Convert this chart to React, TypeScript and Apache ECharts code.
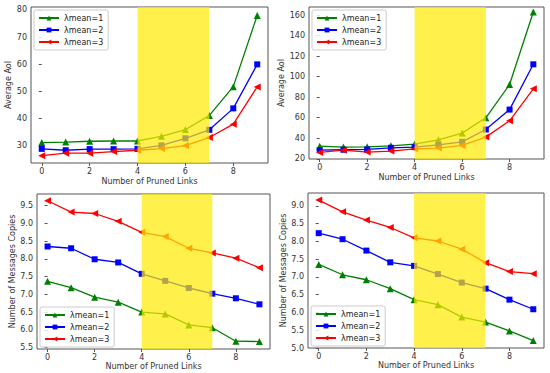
import React, { useEffect, useRef } from "react";
import * as echarts from "echarts";

const xs = [0, 1, 2, 3, 4, 5, 6, 7, 8, 9];
const seriesNames = ["λmean=1", "λmean=2", "λmean=3"];

// Panel A (top-left): Average AoI
const aoiA1 = [31.2, 31.4, 31.7, 31.8, 31.8, 33.5, 36.0, 41.2, 51.8, 78.0];
const aoiA2 = [28.9, 28.4, 28.8, 28.8, 28.9, 30.2, 32.8, 35.9, 43.8, 60.0];
const aoiA3 = [26.4, 27.3, 27.3, 27.9, 28.4, 29.0, 30.1, 33.1, 38.0, 51.7];
// Panel B (top-right): Average AoI
const aoiB1 = [32.3, 31.4, 31.7, 32.6, 34.3, 38.5, 45.0, 59.9, 92.3, 162.9];
const aoiB2 = [28.4, 28.8, 29.1, 30.7, 31.4, 33.6, 36.5, 48.5, 67.9, 112.0];
const aoiB3 = [26.2, 28.4, 26.5, 27.5, 29.7, 30.4, 33.0, 41.1, 57.0, 88.1];
// Panel C (bottom-left): Number of Messages Copies
const copC1 = [7.37, 7.19, 6.92, 6.78, 6.5, 6.45, 6.14, 6.06, 5.68, 5.67];
const copC2 = [8.35, 8.3, 7.99, 7.9, 7.58, 7.38, 7.18, 7.02, 6.89, 6.72];
const copC3 = [9.64, 9.32, 9.28, 9.06, 8.75, 8.63, 8.3, 8.17, 8.02, 7.75];
// Panel D (bottom-right): Number of Messages Copies
const copD1 = [7.35, 7.06, 6.92, 6.67, 6.36, 6.22, 5.87, 5.73, 5.48, 5.21];
const copD2 = [8.23, 8.06, 7.74, 7.41, 7.31, 7.08, 6.84, 6.67, 6.36, 6.09];
const copD3 = [9.16, 8.83, 8.6, 8.39, 8.1, 8.01, 7.78, 7.4, 7.15, 7.09];

const xTicks = [0, 2, 4, 6, 8];
const yTicksA = [30, 40, 50, 60, 70, 80];
const yTicksB = [20, 40, 60, 80, 100, 120, 140, 160];
const yTicksC = [5.5, 6.0, 6.5, 7.0, 7.5, 8.0, 8.5, 9.0, 9.5];
const yTicksD = [5.0, 5.5, 6.0, 6.5, 7.0, 7.5, 8.0, 8.5, 9.0];
const band = [4, 7];

const colors = ["#008000", "#0000ff", "#ff0000"];
const symbols = ["triangle", "rect", "triangle"];
const rotates = [0, 0, 90];

const font = "DejaVu Sans";

export default function App() {
  const ref = useRef<HTMLDivElement>(null);
  useEffect(() => {
    if (!ref.current) return;
    const chart = echarts.init(ref.current, undefined, { renderer: "svg" });

    const panels = [
      { data: [aoiA1, aoiA2, aoiA3], yTicks: yTicksA, ymin: 23.7, ymax: 81.1, name: "Average AoI",
        grid: { left: 31, top: 7, width: 237, height: 156 }, nameGapY: 18, nameGapX: 14, fmt: (v: number) => String(v) },
      { data: [aoiB1, aoiB2, aoiB3], yTicks: yTicksB, ymin: 19.8, ymax: 167.8, name: "Average AoI",
        grid: { left: 309, top: 7, width: 235, height: 152 }, nameGapY: 22, nameGapX: 14, fmt: (v: number) => String(v) },
      { data: [copC1, copC2, copC3], yTicks: yTicksC, ymin: 5.46, ymax: 9.83, name: "Number of Messages Copies",
        grid: { left: 37, top: 194, width: 233, height: 155 }, nameGapY: 19, nameGapX: 13, fmt: (v: number) => v.toFixed(1) },
      { data: [copD1, copD2, copD3], yTicks: yTicksD, ymin: 5.0, ymax: 9.36, name: "Number of Messages Copies",
        grid: { left: 308, top: 193, width: 236, height: 155 }, nameGapY: 20, nameGapX: 13, fmt: (v: number) => v.toFixed(1) },
    ];

    const grids: any[] = [];
    const xAxes: any[] = [];
    const yAxes: any[] = [];
    const series: any[] = [];

    panels.forEach((p, i) => {
      grids.push({ ...p.grid, show: true, borderColor: "#555", borderWidth: 1, backgroundColor: "#fff" });
      xAxes.push({
        type: "value", gridIndex: i, min: -0.45, max: 9.45,
        name: "Number of Pruned Links", nameLocation: "middle", nameGap: p.nameGapX,
        nameTextStyle: { fontFamily: font, fontSize: 8, color: "#333" },
        axisLine: { show: false },
        axisTick: { show: true, customValues: xTicks, length: 3, inside: false, lineStyle: { color: "#555" } },
        axisLabel: { customValues: xTicks, fontFamily: font, fontSize: 8, color: "#333", margin: 4 },
        splitLine: { show: false },
      });
      yAxes.push({
        type: "value", gridIndex: i, min: p.ymin, max: p.ymax,
        name: p.name, nameLocation: "middle", nameGap: p.nameGapY,
        nameTextStyle: { fontFamily: font, fontSize: 8, color: "#333" },
        axisLine: { show: false },
        axisTick: { show: true, customValues: p.yTicks, length: 3, lineStyle: { color: "#555" } },
        axisLabel: { customValues: p.yTicks, fontFamily: font, fontSize: 8, color: "#333", margin: 4, formatter: p.fmt },
        splitLine: { show: false },
      });
      p.data.forEach((vals, k) => {
        series.push({
          type: "line", name: seriesNames[k], xAxisIndex: i, yAxisIndex: i,
          data: xs.map((x, j) => [x, vals[j]]),
          symbol: symbols[k], symbolSize: k === 1 ? 6 : 7, symbolRotate: rotates[k],
          showSymbol: true, z: 2,
          lineStyle: { color: colors[k], width: 1.3 },
          itemStyle: { color: colors[k] },
        });
      });
      series.push({
        type: "custom", name: "band", xAxisIndex: i, yAxisIndex: i, z: 10,
        data: [[band[0], band[1]]],
        renderItem: (params: any, api: any) => {
          const a = api.coord([api.value(0), p.ymax]);
          const b = api.coord([api.value(1), p.ymin]);
          return {
            type: "rect",
            shape: { x: a[0], y: a[1], width: b[0] - a[0], height: b[1] - a[1] },
            style: { fill: "#ffea00", opacity: 0.7 },
          };
        },
        silent: true,
      });
    });

    const legendBase = {
      data: seriesNames,
      orient: "vertical",
      itemWidth: 20, itemHeight: 6, itemGap: 4,
      textStyle: { fontFamily: font, fontSize: 8, color: "#222" },
      borderColor: "#ccc", borderWidth: 1, borderRadius: 2,
      backgroundColor: "rgba(255,255,255,0.8)",
      padding: [4, 5, 4, 4],
      selectedMode: false,
    };

    chart.setOption({
      animation: false,
      backgroundColor: "#fff",
      grid: grids,
      xAxis: xAxes,
      yAxis: yAxes,
      legend: [
        { ...legendBase, left: 34, top: 10 },
        { ...legendBase, left: 312, top: 10 },
        { ...legendBase, left: 40, top: 307 },
        { ...legendBase, left: 311, top: 306 },
      ],
      series,
    });
    return () => chart.dispose();
  }, []);
  return <div ref={ref} style={{ position: "fixed", left: 0, top: 0, width: 550, height: 373 }} />;
}
